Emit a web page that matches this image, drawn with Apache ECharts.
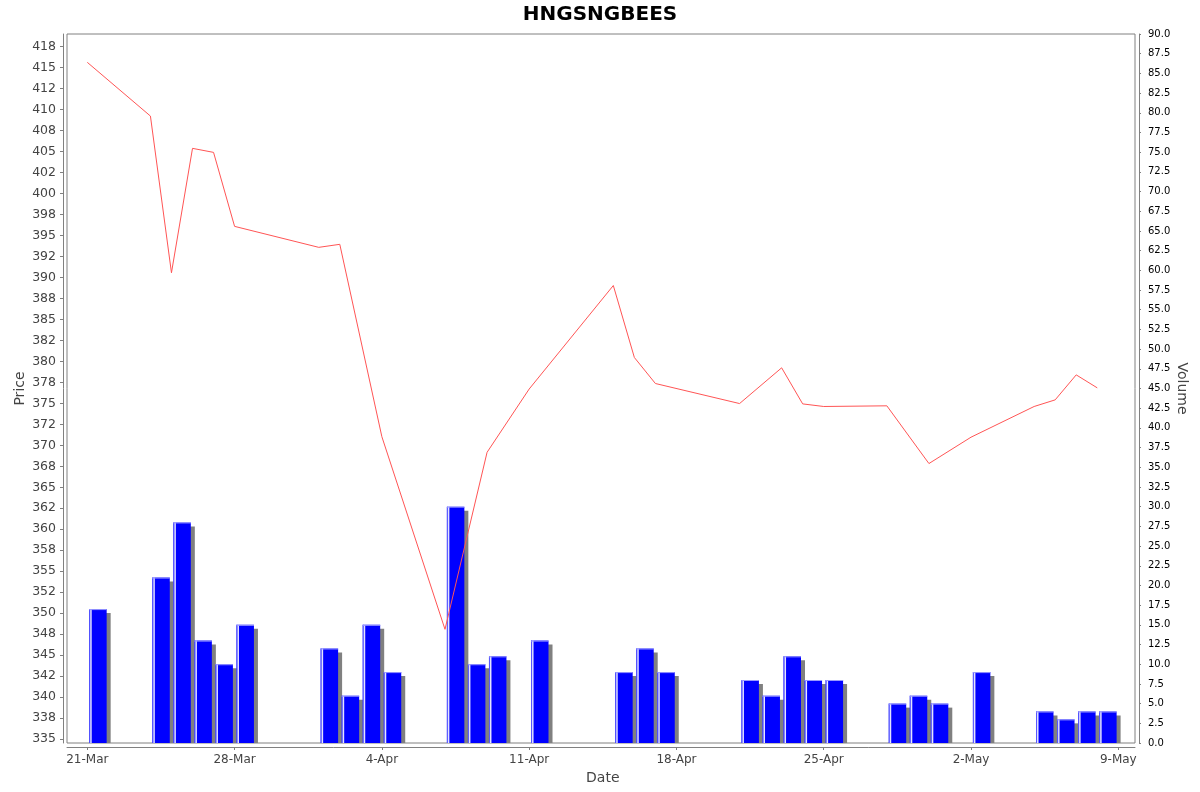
<!DOCTYPE html>
<html>
<head>
<meta charset="utf-8">
<title>HNGSNGBEES</title>
<script src="https://cdn.jsdelivr.net/npm/echarts@6/dist/echarts.min.js"></script>
<style>
  html, body { margin: 0; padding: 0; background: #fff; }
  #main { width: 1200px; height: 792px; }
</style>
</head>
<body>
<div id="main"></div>
<script>
// price (line) - trading dates and closing values
var priceDates = ['2025-03-21','2025-03-24','2025-03-25','2025-03-26','2025-03-27','2025-03-28',
  '2025-04-01','2025-04-02','2025-04-04','2025-04-07','2025-04-09','2025-04-11',
  '2025-04-15','2025-04-16','2025-04-17','2025-04-21','2025-04-23','2025-04-24','2025-04-25',
  '2025-04-28','2025-04-30','2025-05-02','2025-05-05','2025-05-06','2025-05-07','2025-05-08'];
var priceValues = [415.65, 409.25, 390.57, 405.4, 404.92, 396.1,
  393.6, 393.96, 371.03, 348.07, 369.17, 376.71,
  389.05, 380.47, 377.37, 374.98, 379.24, 374.94, 374.63,
  374.71, 367.83, 370.97, 374.63, 375.42, 378.4, 376.85];

// volume (bars)
var volDates = ['2025-03-21','2025-03-24','2025-03-25','2025-03-26','2025-03-27','2025-03-28',
  '2025-04-01','2025-04-02','2025-04-03','2025-04-04','2025-04-07','2025-04-08','2025-04-09',
  '2025-04-11','2025-04-15','2025-04-16','2025-04-17','2025-04-21','2025-04-22','2025-04-23',
  '2025-04-24','2025-04-25','2025-04-28','2025-04-29','2025-04-30','2025-05-02','2025-05-05',
  '2025-05-06','2025-05-07','2025-05-08'];
var volValues = [17, 21, 28, 13, 10, 15,
  12, 6, 15, 9, 30, 10, 11,
  13, 9, 12, 9, 8, 6, 11,
  8, 8, 5, 6, 5, 9, 4,
  3, 4, 4];

var monthNames = ['Jan','Feb','Mar','Apr','May','Jun','Jul','Aug','Sep','Oct','Nov','Dec'];
var DAY = 86400000;
var START = Date.UTC(2025, 2, 21);

// days counted from 21-Mar so weekly ticks land on multiples of 7
function dayIndex(s) {
  var p = s.split('-');
  return (Date.UTC(+p[0], +p[1] - 1, +p[2]) - START) / DAY;
}
function dayLabel(d) {
  var dt = new Date(START + Math.round(d) * DAY);
  return dt.getUTCDate() + '-' + monthNames[dt.getUTCMonth()];
}
// half-to-even rounding, the way the price labels read (337.5 -> 338, 342.5 -> 342)
function roundEven(v) {
  var f = Math.floor(v);
  if (Math.abs(v - f - 0.5) < 1e-6) return (f % 2 === 0) ? f : f + 1;
  return Math.round(v);
}

var priceData = priceDates.map(function (d, i) { return [dayIndex(d), priceValues[i]]; });
var volData = volDates.map(function (d, i) { return [dayIndex(d), volValues[i]]; });

var FONT = 'DejaVu Sans';
var axisGrey = '#808080';

var myChart = echarts.init(document.getElementById('main'));
var option = {
  backgroundColor: '#fff',
  animation: false,
  textStyle: { fontFamily: FONT },
  title: {
    text: 'HNGSNGBEES',
    left: 'center',
    top: 0,
    textStyle: { fontSize: 20, fontWeight: 'bold', color: '#000', fontFamily: FONT }
  },
  grid: [
    { left: 67, right: 65, top: 34, bottom: 49, show: true, borderColor: axisGrey, borderWidth: 1,
      backgroundColor: '#fff', containLabel: false, outerBoundsMode: 'none' },
    // label grid: spans 21-Mar..9-May and 335..417.5 exactly
    { left: 87.3, right: 81.7, top: 46.7, bottom: 53, show: false, containLabel: false, outerBoundsMode: 'none' }
  ],
  xAxis: [
    {
      type: 'value', gridIndex: 0, min: -0.965, max: 49.794, offset: 4, position: 'bottom',
      axisLine: { show: true, onZero: false, lineStyle: { color: axisGrey } },
      axisTick: { show: false }, axisLabel: { show: false }, splitLine: { show: false }
    },
    {
      type: 'value', gridIndex: 1, min: 0, max: 49, interval: 7, position: 'bottom', offset: 8,
      axisLine: { show: false, onZero: false },
      axisTick: { show: true, length: 3, lineStyle: { color: axisGrey } },
      axisLabel: { formatter: dayLabel, fontSize: 12, color: '#444', margin: 7, fontFamily: FONT },
      splitLine: { show: false },
      name: 'Date', nameLocation: 'middle', nameGap: 24,
      nameTextStyle: { fontSize: 14, color: '#444', fontFamily: FONT }
    }
  ],
  yAxis: [
    {
      type: 'value', gridIndex: 0, min: 334.52, max: 419.03, position: 'left', offset: 4,
      axisLine: { show: true, onZero: false, lineStyle: { color: axisGrey } },
      axisTick: { show: false }, axisLabel: { show: false }, splitLine: { show: false },
      name: 'Price', nameLocation: 'middle', nameGap: 36,
      nameTextStyle: { fontSize: 14, color: '#444', fontFamily: FONT }
    },
    {
      type: 'value', gridIndex: 0, min: 0, max: 90, interval: 2.5, position: 'right', offset: 4,
      axisLine: { show: true, onZero: false, lineStyle: { color: axisGrey } },
      axisTick: { show: true, length: 2, lineStyle: { color: axisGrey } },
      axisLabel: { formatter: function (v) { return v.toFixed(1); }, fontSize: 10, color: '#000', margin: 9, fontFamily: FONT },
      splitLine: { show: false },
      name: 'Volume', nameLocation: 'middle', nameGap: 36, nameRotate: -90, nameMoveOverlap: false,
      nameTextStyle: { fontSize: 14, color: '#444', fontFamily: FONT }
    },
    {
      type: 'value', gridIndex: 1, min: 335, max: 417.5, interval: 2.5, position: 'left', offset: 24.3,
      axisLine: { show: false, onZero: false },
      axisTick: { show: true, length: 3, lineStyle: { color: axisGrey } },
      axisLabel: { formatter: roundEven, fontSize: 12.5, color: '#444', margin: 7, fontFamily: FONT },
      splitLine: { show: false }
    }
  ],
  series: [
    {
      name: 'Volume',
      type: 'custom',
      xAxisIndex: 0,
      yAxisIndex: 1,
      data: volData,
      z: 2,
      renderItem: function (params, api) {
        var d = api.value(0), v = api.value(1);
        var tl = api.coord([d + 0.09, v]);
        var br = api.coord([d + 0.92, 0]);
        var x = tl[0], y = tl[1], w = br[0] - tl[0], h = br[1] - tl[1];
        return {
          type: 'group',
          children: [
            { type: 'rect', shape: { x: x + 4, y: y + 4, width: w, height: h - 4 }, style: { fill: '#808080' } },
            { type: 'rect', shape: { x: x, y: y, width: w, height: h }, style: { fill: '#0000ff' } },
            { type: 'rect', shape: { x: x, y: y, width: 1, height: h }, style: { fill: '#5a5aff' } },
            { type: 'rect', shape: { x: x + 1, y: y, width: 1.5, height: h }, style: { fill: '#e4e4ff' } },
            { type: 'rect', shape: { x: x, y: y, width: w, height: 1 }, style: { fill: '#9a9aff' } }
          ]
        };
      }
    },
    {
      name: 'Price',
      type: 'line',
      xAxisIndex: 0,
      yAxisIndex: 0,
      data: priceData,
      z: 5,
      symbol: 'none',
      lineStyle: { color: '#ff5555', width: 1 }
    }
  ]
};

myChart.setOption(option);
</script>
</body>
</html>
